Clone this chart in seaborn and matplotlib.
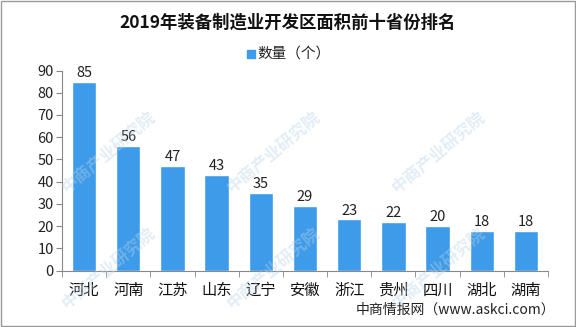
import matplotlib
matplotlib.use("Agg")
import matplotlib.pyplot as plt
import seaborn as sns
import pandas as pd
import numpy as np
from matplotlib.patches import Rectangle

provinces = ["河北", "河南", "江苏", "山东", "辽宁", "安徽", "浙江", "贵州", "四川", "湖北", "湖南"]
counts = [85, 56, 47, 43, 35, 29, 23, 22, 20, 18, 18]
title = "2019年装备制造业开发区面积前十省份排名"
legend_label = "数量（个）"
source = "中商情报网（www.askci.com）"
watermark = "中商产业研究院"
yticks = [0, 10, 20, 30, 40, 50, 60, 70, 80, 90]

sns.set_style("white")
plt.rcParams['font.family'] = ['Noto Sans CJK SC', 'DejaVu Sans']

df = pd.DataFrame({"省份": provinces, "数量": counts})
bar_color = "#3d9be9"

W, H = 576, 327
fig = plt.figure(figsize=(5.76, 3.27), dpi=100)
ax = fig.add_axes([62 / W, 1 - 270.5 / H, 486 / W, 200 / H])
sns.barplot(data=df, x="省份", y="数量", color=bar_color, width=0.55, ax=ax, saturation=1)

ax.set_ylim(0, 90)
ax.set_xlim(-0.5, len(provinces) - 0.5)
ax.set_yticks(yticks)
ax.tick_params(axis='y', which='major', direction='out', length=4, color='#888888', labelsize=10.5, pad=2, left=True, labelcolor='#222222')
ax.tick_params(axis='x', which='major', length=0, labelsize=11, pad=8, labelcolor='#111111')
ax.set_xticks(np.arange(-0.5, len(provinces)), minor=True)
ax.tick_params(axis='x', which='minor', direction='out', length=4, color='#888888', bottom=True)
ax.set_xlabel("")
ax.set_ylabel("")
for s in ["top", "right"]:
    ax.spines[s].set_visible(False)
for s in ["left", "bottom"]:
    ax.spines[s].set_color("#888888")
    ax.spines[s].set_linewidth(0.8)

for i, v in enumerate(counts):
    ax.text(i, v + 0.8, str(v), ha='center', va='bottom', fontsize=10.5, color='#222222')

fig.text(0.5, 1 - 23 / H, title, ha='center', va='center', fontsize=12.5, fontweight='bold', color='#111111')
# legend
fig.patches.append(Rectangle((247 / W, 1 - 58 / H), 8 / W, 8 / H, transform=fig.transFigure, color=bar_color, figure=fig))
fig.text(257 / W, 1 - 54 / H, legend_label, ha='left', va='center', fontsize=10.5, color='#222222')
fig.text(555 / W, 1 - 310 / H, source, ha='right', va='center', fontsize=10, color='#222222')

# faint watermarks (only those fully inside the picture)
for wx in [70, 235, 400]:
    for wy in [197, 313]:
        fig.text(wx / W, 1 - wy / H, watermark, rotation=40, ha='left', va='bottom',
                 fontsize=12, fontweight='bold', color='#b9d2e8', alpha=0.4,
                 rotation_mode='anchor', zorder=10)

fig.patches.append(Rectangle((0.001, 0.002), 0.997, 0.995, transform=fig.transFigure, fill=False, edgecolor='#999999', linewidth=1, figure=fig))

fig.savefig("out.png", dpi=100)
